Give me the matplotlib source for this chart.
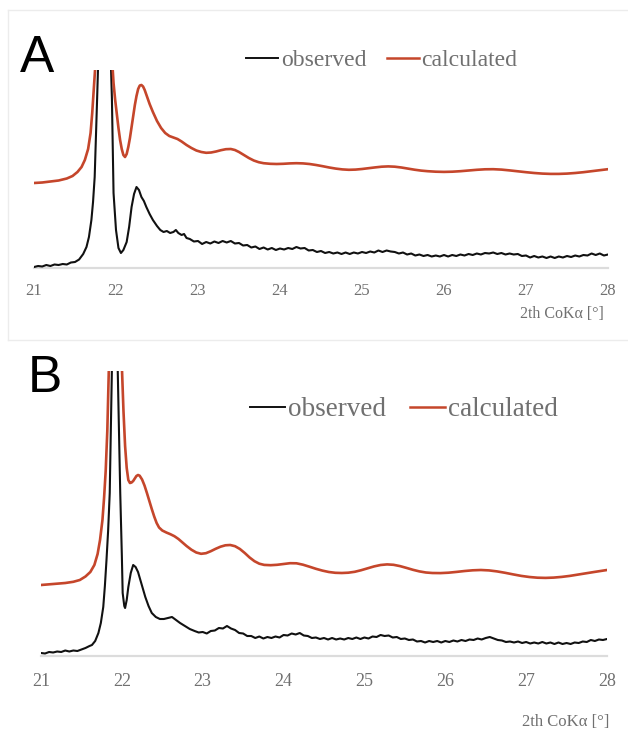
import matplotlib.pyplot as plt
import matplotlib.lines as mlines

# ---- panel A ----
obs_a_x = [21.00, 21.05, 21.10, 21.15, 21.20, 21.25, 21.30, 21.35, 21.40, 21.45, 21.50, 21.55, 21.60, 21.64,
           21.67, 21.70, 21.72, 21.74, 21.77, 21.86, 21.95, 21.97, 22.00, 22.03, 22.06, 22.09, 22.13, 22.16,
           22.19, 22.22, 22.25, 22.28, 22.31, 22.34, 22.37, 22.41, 22.45, 22.50, 22.54, 22.58, 22.62, 22.66,
           22.70, 22.73, 22.76, 22.80, 22.83, 22.86,
           22.90, 22.95, 23.00, 23.05, 23.10, 23.15, 23.20, 23.25, 23.30, 23.35, 23.40, 23.45, 23.50, 23.55,
           23.60, 23.65, 23.70, 23.75, 23.80, 23.85, 23.90, 23.95, 24.00, 24.05, 24.10, 24.15, 24.20, 24.25,
           24.30, 24.35, 24.40, 24.45, 24.50, 24.55, 24.60, 24.65, 24.70, 24.75, 24.80, 24.85, 24.90, 24.95,
           25.00, 25.05, 25.10, 25.15, 25.20, 25.25, 25.30, 25.35, 25.40, 25.45, 25.50, 25.55, 25.60, 25.65,
           25.70, 25.75, 25.80, 25.85, 25.90, 25.95, 26.00, 26.05, 26.10, 26.15, 26.20, 26.25, 26.30, 26.35,
           26.40, 26.45, 26.50, 26.55, 26.60, 26.65, 26.70, 26.75, 26.80, 26.85, 26.90, 26.95, 27.00, 27.05,
           27.10, 27.15, 27.20, 27.25, 27.30, 27.35, 27.40, 27.45, 27.50, 27.55, 27.60, 27.65, 27.70, 27.75,
           27.80, 27.85, 27.90, 27.95, 28.00]
obs_a_y = [1, 2, 1.5, 3, 2, 3.5, 3, 4, 3.5, 5.5, 6, 8.5, 14, 21,
           31, 48, 66, 91, 170, 420, 170, 75, 38, 20, 15, 18, 26, 41,
           61, 74, 81, 78, 71, 67, 61, 54, 48, 42, 38, 36, 37, 35,
           36, 38, 35, 33, 34, 30,
           29, 26.5, 27, 24, 26, 24.5, 26.5, 25, 27, 25.5, 27, 24.5, 25, 22.5,
           23, 20.5, 21.5, 19, 20.5, 18.5, 20, 18, 19.5, 18.5, 20, 19, 21, 19.5,
           20, 17.5, 18, 16, 17, 15, 16, 14.5, 15.5, 14, 15.5, 14, 15.5, 14.5,
           16, 15, 16.5, 15.5, 17.5, 16, 17.5, 16.5, 16, 14.5, 15.5, 13.5, 14.5, 12.5,
           13.5, 12, 13, 11.5, 12.5, 11.5, 13, 11.5, 13, 12, 13.5, 12.5, 14, 13,
           14.5, 13.5, 15, 14.5, 15.5, 14, 15, 13.5, 14.5, 13.5, 14, 12, 12.5, 10.5,
           12, 10.5, 11.5, 10, 11.5, 10, 11.5, 10.5, 12, 11, 12.5, 11.5, 13, 12.5,
           14.5, 13, 14.5, 12.5, 13.5]

calc_a_x = [21.00, 21.10, 21.20, 21.30, 21.40, 21.47, 21.53, 21.58, 21.62, 21.66, 21.69, 21.71, 21.73, 21.75,
            21.85, 21.955, 21.97, 21.99, 22.01, 22.03, 22.05, 22.07, 22.09, 22.11, 22.13, 22.15, 22.17, 22.19,
            22.21, 22.23, 22.25, 22.27, 22.29, 22.31, 22.33, 22.35, 22.38, 22.41, 22.45, 22.50, 22.55, 22.60,
            22.65, 22.70, 22.75, 22.80, 22.86, 22.92, 22.98, 23.04, 23.10, 23.16, 23.22, 23.28, 23.34, 23.40,
            23.45, 23.50, 23.56, 23.62, 23.68, 23.74, 23.80, 23.88, 23.96, 24.04, 24.12, 24.20, 24.28, 24.36,
            24.44, 24.52, 24.60, 24.68, 24.76, 24.84, 24.92, 25.00, 25.08, 25.16, 25.24, 25.32, 25.40, 25.48,
            25.56, 25.64, 25.72, 25.80, 25.90, 26.00, 26.10, 26.20, 26.30, 26.40, 26.50, 26.60, 26.70, 26.80,
            26.90, 27.00, 27.10, 27.20, 27.30, 27.40, 27.50, 27.60, 27.70, 27.80, 27.90, 28.00]
calc_a_y = [85, 85.5, 86.5, 87.5, 89.5, 92, 96, 101, 108, 119, 135, 155, 180, 205,
            430, 205, 185, 168, 154, 140, 128, 119, 113, 111, 114, 121, 130, 141,
            152, 163, 172, 179, 182.5, 183, 181.5, 178, 171, 164, 156, 147, 140, 135,
            132, 130.5, 129, 126.5, 123, 120, 117.5, 116, 115.2, 115.5, 116.5, 117.8, 118.8, 119,
            118, 116, 113, 110, 107.5, 105.8, 104.8, 104.2, 104, 104.2, 104.6, 104.8, 104.6, 104,
            103, 101.8, 100.5, 99.4, 98.6, 98.2, 98.4, 99, 99.8, 100.6, 101.3, 101.6, 101.3, 100.5,
            99.4, 98.3, 97.4, 96.8, 96.3, 96.1, 96.3, 96.8, 97.5, 98.2, 98.7, 98.8, 98.4, 97.6,
            96.7, 95.8, 95, 94.4, 94.1, 94.1, 94.4, 95, 95.8, 96.8, 97.8, 98.8]

# ---- panel B ----
obs_b_x = [21.00, 21.05, 21.10, 21.15, 21.20, 21.25, 21.30, 21.35, 21.40, 21.45, 21.50, 21.55, 21.60, 21.63,
           21.67, 21.71, 21.74, 21.77, 21.79, 21.81, 21.83, 21.85, 21.91, 21.98, 22.00, 22.01, 22.03, 22.04,
           22.06, 22.08, 22.11, 22.14, 22.17, 22.20, 22.24, 22.29, 22.33, 22.37, 22.42, 22.47, 22.52, 22.57,
           22.62, 22.67, 22.72, 22.78, 22.84,
           22.90, 22.95, 23.00, 23.05, 23.10, 23.15, 23.20, 23.25, 23.30, 23.35, 23.40, 23.45, 23.50, 23.55,
           23.60, 23.65, 23.70, 23.75, 23.80, 23.85, 23.90, 23.95, 24.00, 24.05, 24.10, 24.15, 24.20, 24.25,
           24.30, 24.35, 24.40, 24.45, 24.50, 24.55, 24.60, 24.65, 24.70, 24.75, 24.80, 24.85, 24.90, 24.95,
           25.00, 25.05, 25.10, 25.15, 25.20, 25.25, 25.30, 25.35, 25.40, 25.45, 25.50, 25.55, 25.60, 25.65,
           25.70, 25.75, 25.80, 25.85, 25.90, 25.95, 26.00, 26.05, 26.10, 26.15, 26.20, 26.25, 26.30, 26.35,
           26.40, 26.45, 26.50, 26.55, 26.60, 26.65, 26.70, 26.75, 26.80, 26.85, 26.90, 26.95, 27.00, 27.05,
           27.10, 27.15, 27.20, 27.25, 27.30, 27.35, 27.40, 27.45, 27.50, 27.55, 27.60, 27.65, 27.70, 27.75,
           27.80, 27.85, 27.90, 27.95, 28.00]
obs_b_y = [3, 2.5, 4, 3.5, 4.5, 4, 5.5, 4.5, 5.5, 5, 6.5, 8, 10, 11,
           15, 23, 33, 49, 70, 96, 125, 163, 440, 163, 100, 63, 50, 48,
           56, 69, 83, 91, 89, 84, 73, 59, 50, 43, 39, 37, 37, 38,
           39, 36, 33, 30, 27,
           25, 23.5, 24, 22.5, 25, 25.5, 28, 27.5, 30, 27.5, 26, 23, 22.5, 20,
           20, 18, 19.5, 17.5, 19, 18, 19.5, 18.5, 21, 20.5, 22.5, 21.5, 23, 20.5,
           20, 18, 18.5, 17, 18, 16.5, 18, 16.5, 17.5, 16.5, 18, 17, 18.5, 17,
           18.5, 17.5, 19.5, 19, 21, 20, 20.5, 18.5, 19, 17, 17.5, 16, 16.5, 14.5,
           15, 13.5, 15, 14, 15, 13.5, 15, 14, 15.5, 14.5, 16, 15, 16.5, 16,
           17.5, 16.5, 18, 19, 17.5, 16, 15.5, 14, 14.5, 13.5, 14.5, 13, 14, 12.5,
           13.5, 12.5, 14, 12.5, 13.5, 12, 13.5, 12, 13, 12, 13.5, 13, 14.5, 14,
           16, 15, 16.5, 16, 17]

calc_b_x = [21.00, 21.15, 21.30, 21.40, 21.48, 21.55, 21.61, 21.66, 21.70, 21.73, 21.76, 21.78, 21.80, 21.82,
            21.84, 21.92, 22.00, 22.02, 22.04, 22.06, 22.08, 22.10, 22.12, 22.14, 22.16, 22.18, 22.20, 22.22,
            22.25, 22.28, 22.31, 22.34, 22.37, 22.40, 22.43, 22.46, 22.50, 22.55, 22.60, 22.65, 22.70, 22.75,
            22.80, 22.86, 22.92, 22.98, 23.04, 23.10, 23.16, 23.22, 23.28, 23.34, 23.40, 23.46, 23.52, 23.58,
            23.64, 23.70, 23.76, 23.84, 23.92, 24.00, 24.08, 24.16, 24.24, 24.32, 24.40, 24.48, 24.56, 24.64,
            24.72, 24.80, 24.88, 24.96, 25.04, 25.12, 25.20, 25.28, 25.36, 25.44, 25.52, 25.60, 25.68, 25.76,
            25.84, 25.94, 26.04, 26.14, 26.24, 26.34, 26.44, 26.54, 26.64, 26.74, 26.84, 26.94, 27.04, 27.14,
            27.24, 27.34, 27.44, 27.54, 27.64, 27.74, 27.84, 27.92, 28.00]
calc_b_y = [71, 72, 73, 74.2, 76, 79.5, 84, 91, 102, 116, 136, 158, 185, 225,
            290, 430, 290, 245, 210, 188, 176, 173, 173.5, 175, 177.5, 180, 181, 180.3,
            176.5, 170.5, 163, 155, 147, 139.5, 133, 128.5, 125.5, 123.5, 121.8, 119.8, 117, 113.5,
            110, 106.3, 103.5, 102.2, 102.8, 104.8, 107.2, 109.3, 110.7, 111, 109.8, 107, 103, 98.5,
            94.8, 92.3, 91.1, 90.8, 91.2, 92, 92.8, 92.7, 91.3, 89.3, 87.2, 85.4, 84, 83.2,
            83, 83.3, 84.2, 85.8, 87.7, 89.6, 91, 91.6, 91.2, 89.9, 88.1, 86.2, 84.6, 83.5,
            83, 82.9, 83.3, 84.1, 85, 85.7, 86, 85.6, 84.6, 83.2, 81.6, 80.1, 79, 78.3,
            78.1, 78.4, 79.1, 80.1, 81.4, 82.7, 84, 85, 86]

xticks = [21, 22, 23, 24, 25, 26, 27, 28]
xlabel = '2th CoKα [°]'
legend_labels = ['observed', 'calculated']

OBS_COLOR = '#111111'
CALC_COLOR = '#c5462b'
GRAY_TXT = '#707070'
SERIF = 'Liberation Serif'

W, H = 628, 736
fig = plt.figure(figsize=(W / 100, H / 100), dpi=100)
fig.patch.set_facecolor('white')


def fx(px):
    return px / W


def fy(py):
    return 1 - py / H


def panel(rect, ox, oy, cx, cy, ytop, ticksize, pad):
    ax = fig.add_axes(rect)
    ax.plot(ox, oy, color=OBS_COLOR, lw=1.5, zorder=3)
    ax.plot(cx, cy, color=CALC_COLOR, lw=1.9, zorder=3)
    ax.set_xlim(21, 28)
    ax.set_ylim(0, ytop)
    ax.set_xticks(xticks)
    ax.set_xticklabels([str(t) for t in xticks], family=SERIF, fontsize=ticksize, color=GRAY_TXT)
    ax.tick_params(axis='x', length=0, pad=pad)
    ax.set_yticks([])
    for s in ['top', 'left', 'right']:
        ax.spines[s].set_visible(False)
    ax.spines['bottom'].set_color('#dcdcdc')
    ax.spines['bottom'].set_linewidth(1.6)
    ax.set_facecolor('none')
    return ax


def legend(ax, anchor, size, hlen):
    handles = [mlines.Line2D([], [], color=OBS_COLOR, lw=1.4),
               mlines.Line2D([], [], color=CALC_COLOR, lw=1.8)]
    leg = ax.legend(handles, legend_labels, loc='center', bbox_to_anchor=anchor,
                    bbox_transform=fig.transFigure, ncol=2, frameon=False,
                    handlelength=hlen, handletextpad=0.1, columnspacing=0.9,
                    prop={'family': SERIF, 'size': size})
    for t in leg.get_texts():
        t.set_color(GRAY_TXT)


# panel A: axis 34..608 px, bottom 268, top 70
axA = panel([fx(34), fy(268), fx(608) - fx(34), fy(70) - fy(268)],
            obs_a_x, obs_a_y, calc_a_x, calc_a_y, 198, 12, 11)
legend(axA, (fx(382), fy(60)), 17, 1.35)
fig.text(fx(604), fy(314), xlabel, ha='right', va='center', family=SERIF, fontsize=11.5, color=GRAY_TXT)
fig.text(fx(20), fy(72), 'A', ha='left', va='baseline', family='Liberation Sans', fontsize=37, color='black')

# panel B: axis 41..607 px, bottom 656, top 371
axB = panel([fx(41), fy(656), fx(607) - fx(41), fy(371) - fy(656)],
            obs_b_x, obs_b_y, calc_b_x, calc_b_y, 285, 13, 12)
legend(axB, (fx(404), fy(410)), 19.5, 1.3)
fig.text(fx(609), fy(722), xlabel, ha='right', va='center', family=SERIF, fontsize=12, color=GRAY_TXT)
fig.text(fx(28), fy(392), 'B', ha='left', va='baseline', family='Liberation Sans', fontsize=37, color='black')

# faint frame lines of the two screenshots
frame = '#ececec'
fig.add_artist(mlines.Line2D([fx(8), 1], [fy(10), fy(10)], color=frame, lw=1))
fig.add_artist(mlines.Line2D([fx(8), fx(8)], [fy(10), fy(340)], color=frame, lw=1))
fig.add_artist(mlines.Line2D([fx(8), 1], [fy(340), fy(340)], color=frame, lw=1))

fig.savefig('out.png', dpi=100)
